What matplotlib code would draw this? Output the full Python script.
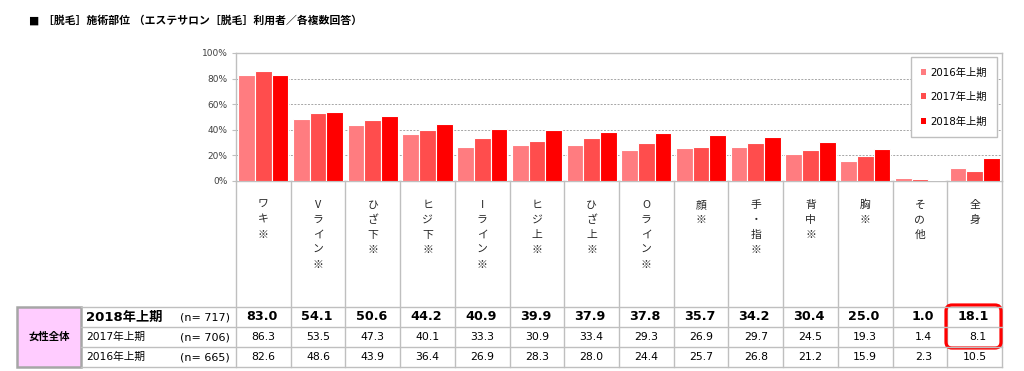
import matplotlib
matplotlib.use("Agg")
import matplotlib.pyplot as plt
from matplotlib.patches import Rectangle, FancyBboxPatch, Patch
import numpy as np

plt.rcParams['font.family'] = ['DejaVu Sans', 'Noto Sans CJK JP']

categories = ["ワキ※", "Vライン※", "ひざ下※", "ヒジ下※", "Iライン※", "ヒジ上※", "ひざ上※",
              "Oライン※", "顔※", "手・指※", "背中※", "胸※", "その他", "全身"]
v2018 = [83.0, 54.1, 50.6, 44.2, 40.9, 39.9, 37.9, 37.8, 35.7, 34.2, 30.4, 25.0, 1.0, 18.1]
v2017 = [86.3, 53.5, 47.3, 40.1, 33.3, 30.9, 33.4, 29.3, 26.9, 29.7, 24.5, 19.3, 1.4, 8.1]
v2016 = [82.6, 48.6, 43.9, 36.4, 26.9, 28.3, 28.0, 24.4, 25.7, 26.8, 21.2, 15.9, 2.3, 10.5]
series_labels = ["2016年上期", "2017年上期", "2018年上期"]
series_n = ["(n= 665)", "(n= 706)", "(n= 717)"]
colors = ["#FF7C80", "#FF4D4D", "#FF0000"]
title = "■ ［脱毛］施術部位 （エステサロン［脱毛］利用者／各複数回答）"
group_label = "女性全体"

W, H = 1024, 371
fig = plt.figure(figsize=(W / 100, H / 100), dpi=100)


def px(x0, y0, x1, y1):
    return [x0 / W, 1 - y1 / H, (x1 - x0) / W, (y1 - y0) / H]


grey = "#BFBFBF"
n = len(categories)
x = np.arange(n) + 0.5
bw = 0.305

# main chart
ax = fig.add_axes(px(236, 53, 1002, 181))
for k, vals in enumerate([v2016, v2017, v2018]):
    ax.bar(x + (k - 1) * bw, vals, width=bw, color=colors[k], edgecolor="white",
           linewidth=0.8, zorder=3)
ax.set_xlim(0, n)
ax.set_ylim(0, 100)
ax.set_yticks(range(0, 101, 20))
ax.set_yticklabels([f"{t}%" for t in range(0, 101, 20)], fontsize=6.5, color="#404040")
ax.set_xticks([])
for yv in range(20, 100, 20):
    ax.axhline(yv, color="#A6A6A6", linestyle=(0, (2, 1.5)), linewidth=0.7, zorder=1)
for s in ax.spines.values():
    s.set_color(grey)
    s.set_linewidth(1.0)
ax.tick_params(axis="y", length=3, color=grey, pad=3)

handles = [Patch(facecolor=c, edgecolor="none") for c in colors]
ax.legend(handles, series_labels, loc="upper right", bbox_to_anchor=(997 / W, 1 - 57 / H),
          bbox_transform=fig.transFigure, borderaxespad=0, fancybox=False,
          edgecolor=grey, framealpha=1, fontsize=7.4, handlelength=0.5, handleheight=0.5,
          handletextpad=0.4, labelspacing=1.4, borderpad=1.0)

# labels + table area
ax2 = fig.add_axes(px(236, 181, 1002, 367))
ax2.set_xlim(0, n)
ax2.set_ylim(367, 181)
ax2.axis("off")
for b in range(n + 1):
    ax2.plot([b, b], [181, 367], color=grey, linewidth=1.0, clip_on=False)
for i, lab in enumerate(categories):
    for j, ch in enumerate(lab):
        ax2.text(x[i], 205 + 15 * j, ch, ha="center", va="center", fontsize=7.8,
                 color="#262626", family=['Noto Sans CJK JP', 'DejaVu Sans'])

row_y = [357, 337, 317]  # 2016, 2017, 2018
for k, vals in enumerate([v2016, v2017, v2018]):
    bold = (k == 2)
    for i, v in enumerate(vals):
        ax2.text(i + 1 - (0.24 if bold else 0.28), row_y[k], f"{v:.1f}", ha="right",
                 va="center", fontsize=9.2 if bold else 7.8,
                 fontweight="bold" if bold else "normal", color="black")

# overlay in pixel coordinates
ov = fig.add_axes([0, 0, 1, 1])
ov.set_xlim(0, W)
ov.set_ylim(H, 0)
ov.axis("off")
ov.patch.set_alpha(0)
for yy in [307, 327, 347, 367]:
    ov.plot([81, 1002], [yy, yy], color=grey, linewidth=1.0)
ov.add_patch(Rectangle((17, 307), 64, 60, facecolor="#FFCCFF", edgecolor="#A6A6A6",
                       linewidth=1.8))
ov.text(49, 337, group_label, ha="center", va="center", fontsize=7.5, fontweight="bold",
        family=['Noto Sans CJK JP', 'DejaVu Sans'])
for k in range(3):
    bold = (k == 2)
    ov.text(86, row_y[k], series_labels[k], ha="left", va="center",
            fontsize=9.5 if bold else 7.7, fontweight="bold" if bold else "normal")
    ov.text(230, row_y[k], series_n[k], ha="right", va="center", fontsize=8.0)
ov.add_patch(FancyBboxPatch((946, 305), 55, 43, boxstyle="round,pad=0,rounding_size=6",
                            facecolor="none", edgecolor="#FF0000", linewidth=2.3))
ov.text(29, 20, title, ha="left", va="center", fontsize=7.8, fontweight="bold",
        family=['DejaVu Sans', 'Noto Sans CJK JP'])

fig.savefig("out.png", dpi=100)
